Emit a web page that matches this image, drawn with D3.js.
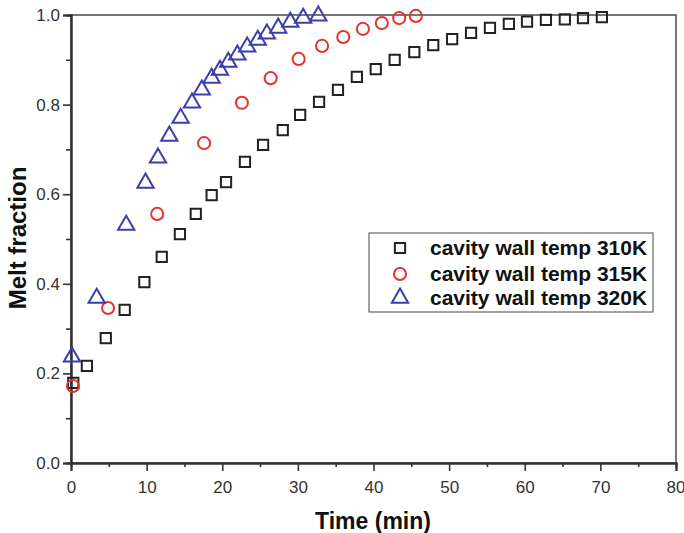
<!DOCTYPE html>
<html><head><meta charset="utf-8">
<script src="https://cdn.jsdelivr.net/npm/d3@7/dist/d3.min.js"></script>
<style>body{margin:0;background:#fff}svg{display:block}</style>
</head><body>
<svg id="c" width="684" height="533"></svg>
<script>
const xTicks = [0,10,20,30,40,50,60,70,80];
const yTicks = [0.0,0.2,0.4,0.6,0.8,1.0];
const seriesNames = ["cavity wall temp 310K","cavity wall temp 315K","cavity wall temp 320K"];
const t310 = [0.3,2.1,4.6,7.1,9.7,12.0,14.4,16.5,18.6,20.5,23.0,25.4,28.0,30.3,32.8,35.3,37.8,40.3,42.8,45.4,47.9,50.4,52.9,55.4,57.9,60.3,62.8,65.3,67.7,70.2];
const v310 = [0.179,0.217,0.279,0.342,0.404,0.460,0.511,0.556,0.598,0.627,0.672,0.710,0.743,0.777,0.806,0.833,0.862,0.879,0.900,0.917,0.933,0.946,0.960,0.971,0.980,0.985,0.989,0.990,0.993,0.995];
const t315 = [0.26,4.9,11.4,17.6,22.6,26.4,30.1,33.2,36.0,38.6,41.1,43.4,45.6];
const v315 = [0.172,0.346,0.556,0.714,0.804,0.859,0.902,0.931,0.951,0.969,0.982,0.993,0.998];
const t320 = [0.13,3.4,7.3,9.85,11.5,13.0,14.5,16.0,17.3,18.6,19.7,20.8,22.0,23.3,24.7,25.9,27.4,29.0,30.7,32.7];
const v320 = [0.237,0.368,0.531,0.625,0.681,0.730,0.770,0.804,0.833,0.859,0.877,0.895,0.911,0.929,0.944,0.958,0.971,0.984,0.993,0.998];

const svg = d3.select("#c");
const L=71,R=676,T=15,B=463;
const x = d3.scaleLinear().domain([0,80]).range([L,R]);
const y = d3.scaleLinear().domain([0,1]).range([B,T]);
const font = "Liberation Sans, Arial, sans-serif";

svg.append("rect").attr("x",L).attr("y",T).attr("width",R-L).attr("height",B-T)
  .attr("fill","none").attr("stroke","#555").attr("stroke-width",1.6);

const gx = svg.append("g").attr("transform",`translate(0,${B})`)
  .call(d3.axisBottom(x).tickValues(d3.range(5,80,10)).tickSize(4).tickFormat(""));
const gx2 = svg.append("g").attr("transform",`translate(0,${B})`)
  .call(d3.axisBottom(x).tickValues(xTicks).tickSize(8).tickPadding(10).tickFormat(d3.format("d")));
const gy1 = svg.append("g").attr("transform",`translate(${L},0)`)
  .call(d3.axisLeft(y).tickValues(d3.range(0.1,1.0,0.2)).tickSize(5).tickFormat(""));
const gy = svg.append("g").attr("transform",`translate(${L},0)`)
  .call(d3.axisLeft(y).tickValues(yTicks).tickSize(8).tickPadding(3).tickFormat(d3.format(".1f")));
[gx,gx2,gy1,gy].forEach(g=>{
  g.select(".domain").attr("stroke","#333").attr("stroke-width",2);
  g.selectAll(".tick line").attr("stroke","#333").attr("stroke-width",1.6);
  g.selectAll(".tick text").attr("font-family",font).attr("font-size",17).attr("fill","#333");
});
gx2.selectAll(".tick text").filter(d=>d===80).attr("text-anchor","end").attr("dx","9");

svg.append("text").attr("x",373).attr("y",529).attr("text-anchor","middle")
  .attr("font-family",font).attr("font-weight","bold").attr("font-size",23).attr("fill","#111").text("Time (min)");
svg.append("text").attr("transform",`translate(26,238) rotate(-90)`).attr("text-anchor","middle")
  .attr("font-family",font).attr("font-weight","bold").attr("font-size",24).attr("fill","#111").text("Melt fraction");

const colors = ["#222222","#e8322f","#3b3fa8"];
const shapes = [d3.symbolSquare, d3.symbolCircle, d3.symbolTriangle];
const sizes = [105, 115, 115];
const data = [[t310,v310],[t315,v315],[t320,v320]];
const plot = svg.append("g");
data.forEach(([ts,vs],i)=>{
  const sym = d3.symbol().type(shapes[i]).size(sizes[i]);
  plot.selectAll(null).data(ts.map((t,j)=>[t,vs[j]])).join("path")
    .attr("d",sym).attr("transform",d=>`translate(${x(d[0])},${y(d[1])})`)
    .attr("fill","none").attr("stroke",colors[i]).attr("stroke-width",2);
});

const lg = svg.append("g");
lg.append("rect").attr("x",369).attr("y",233).attr("width",284).attr("height",79)
  .attr("fill","#fff").attr("stroke","#666").attr("stroke-width",1.2);
const rowsY=[248,274,298];
seriesNames.forEach((n,i)=>{
  lg.append("path").attr("d",d3.symbol().type(shapes[i]).size(sizes[i])())
    .attr("transform",`translate(400,${rowsY[i]})`).attr("fill","none").attr("stroke",colors[i]).attr("stroke-width",2);
  lg.append("text").attr("x",430).attr("y",rowsY[i]+7).attr("font-family",font).attr("font-weight","bold")
    .attr("font-size",21).attr("fill","#111").text(n);
});
</script>
</body></html>
